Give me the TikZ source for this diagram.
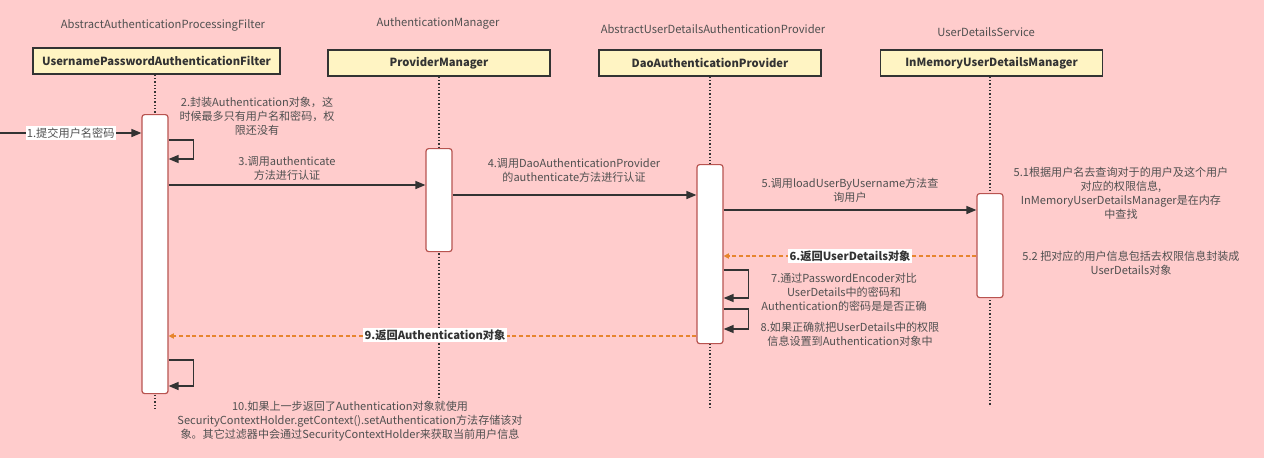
\documentclass[tikz,border=0pt]{standalone}
\usepackage{fontspec}
\setmainfont{Noto Sans CJK SC}
\usetikzlibrary{arrows.meta}
\definecolor{bg}{HTML}{FFCCCC}
\definecolor{hdr}{HTML}{FFF4C3}
\definecolor{actb}{HTML}{B85450}
\definecolor{ink}{HTML}{333333}
\definecolor{txt}{HTML}{505050}
\definecolor{ret}{HTML}{E6852E}
\begin{document}
\begin{tikzpicture}[x=0.75pt,y=-0.75pt,
 lbl/.style={font=\fontsize{8.3pt}{10.5pt}\selectfont, text=txt, align=center, inner sep=0pt},
 cls/.style={font=\fontsize{8.4pt}{10pt}\selectfont, text=txt, inner sep=0pt},
 hbox/.style={draw=ink, line width=1pt, fill=hdr, text=ink, font=\bfseries\fontsize{8.4pt}{10pt}\selectfont, minimum height=19.5pt, inner sep=0pt},
 act/.style={draw=actb, line width=0.9pt, fill=white, rounded corners=2pt, minimum width=19.5pt, inner sep=0pt, anchor=north},
 life/.style={ink, line width=1.1pt, dash pattern=on 1pt off 1.5pt},
 msg/.style={ink, line width=1.1pt, -{Triangle[length=7.5pt,width=6pt]}},
 rmsg/.style={ret, line width=0.8pt, dash pattern=on 3pt off 2pt, -{Triangle[length=4pt,width=4pt]}},
 rlbl/.style={fill=white, font=\bfseries\fontsize{8.4pt}{10pt}\selectfont, text=ink, inner sep=1pt},
]
\path[use as bounding box, fill=bg] (0,0) rectangle (1264,458);

% class labels
\node[cls] (c1) at (163,25) {AbstractAuthenticationProcessingFilter};
\node[cls] (c2) at (438,23) {AuthenticationManager};
\node[cls] (c3) at (713,29) {AbstractUserDetailsAuthenticationProvider};
\node[cls] (c4) at (986,32) {UserDetailsService};

% header boxes
\node[hbox, minimum width=185.25pt] (h1) at (156.5,61) {UsernamePasswordAuthenticationFilter};
\node[hbox, minimum width=166.5pt] (h2) at (439,63) {ProviderManager};
\node[hbox, minimum width=166.5pt] (h3) at (710,63) {DaoAuthenticationProvider};
\node[hbox, minimum width=166.5pt] (h4) at (991.5,63) {InMemoryUserDetailsManager};

% lifeline ends
\coordinate (e1) at (155,410);
\coordinate (e2) at (439,400);
\coordinate (e3) at (710,407);
\coordinate (e4) at (990,405);
\draw[life] (h1.south -| e1) -- (e1);
\draw[life] (h2.south -| e2) -- (e2);
\draw[life] (h3.south -| e3) -- (e3);
\draw[life] (h4.south -| e4) -- (e4);

% activation bars
\node[act, minimum height=209.25pt] (a1) at (155,114) {};
\node[act, minimum height=77.25pt] (a2) at (439,148) {};
\node[act, minimum height=134.25pt] (a3) at (710,164) {};
\node[act, minimum height=78pt] (a4) at (990,193) {};

% 1
\coordinate (start) at (0,133);
\draw[msg] (start) -- (a1.west |- start) node[pos=0.5, fill=white, text=txt, font=\fontsize{8.4pt}{10pt}\selectfont, inner sep=1pt] (l1) {1.提交用户名密码};

% 2 self loop
\draw[msg] (a1.east |- 0,140) -- ++(25,0) |- (a1.east |- 0,159);
\node[lbl] (l2) at (257,116) {2.封装Authentication对象，这\\时候最多只有用户名和密码，权\\限还没有};

% 3
\draw[msg] (a1.east |- 0,185) -- (a2.west |- 0,185);
\node[lbl] (l3) at (287,168) {3.调用authenticate\\方法进行认证};

% 4
\draw[msg] (a2.east |- 0,195) -- (a3.west |- 0,195);
\node[lbl] (l4) at (574,170) {4.调用DaoAuthenticationProvider\\的authenticate方法进行认证};

% 5
\draw[msg] (a3.east |- 0,210) -- (a4.west |- 0,210);
\node[lbl] (l5) at (850,190) {5.调用loadUserByUsername方法查\\询用户};
\node[lbl] (l51) at (1121,193) {5.1根据用户名去查询对于的用户及这个用户\\对应的权限信息,\\InMemoryUserDetailsManager是在内存\\中查找};

% 6
\draw[rmsg] (a4.west |- 0,256) -- (a3.east |- 0,256);
\node[rlbl] (l6) at (850,256) {6.返回UserDetails对象};
\node[lbl] (l52) at (1131,263) {5.2 把对应的用户信息包括去权限信息封装成\\UserDetails对象};

% 7
\draw[msg] (a3.east |- 0,270) -- ++(25,0) |- (a3.east |- 0,298);
\node[lbl] (l7) at (844,292) {7.通过PasswordEncoder对比\\UserDetails中的密码和\\Authentication的密码是是否正确};

% 8
\draw[msg] (a3.east |- 0,309) -- ++(25,0) |- (a3.east |- 0,329);
\node[lbl] (l8) at (850,334) {8.如果正确就把UserDetails中的权限\\信息设置到Authentication对象中};

% 9
\draw[rmsg] (a3.west |- 0,336) -- (a1.east |- 0,336);
\node[rlbl] (l9) at (435,335) {9.返回Authentication对象};

% 10
\draw[msg] (a1.east |- 0,360) -- ++(25,0) |- (a1.east |- 0,386);
\node[lbl] (l10) at (350,421) {10.如果上一步返回了Authentication对象就使用\\SecurityContextHolder.getContext().setAuthentication方法存储该对\\象。其它过滤器中会通过SecurityContextHolder来获取当前用户信息};
\end{tikzpicture}
\end{document}
